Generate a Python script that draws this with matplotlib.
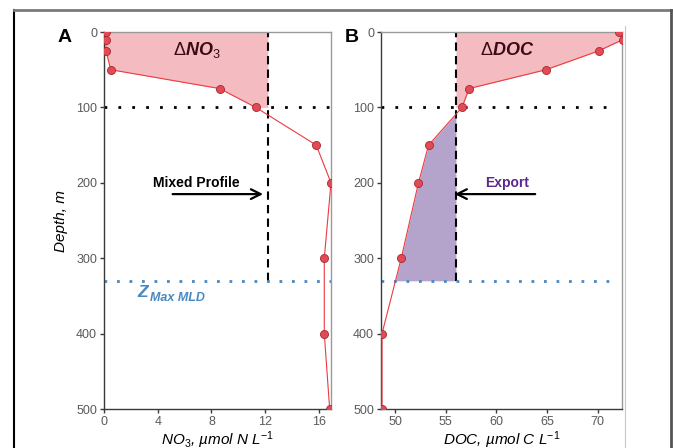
import numpy as np
import matplotlib
matplotlib.use("Agg")
import matplotlib.pyplot as plt
from matplotlib.lines import Line2D

plt.rcParams['font.family'] = ['Liberation Sans', 'DejaVu Sans']
plt.rcParams['mathtext.fontset'] = 'custom'
plt.rcParams['mathtext.rm'] = 'Liberation Sans'
plt.rcParams['mathtext.it'] = 'Liberation Sans:italic'
plt.rcParams['mathtext.bf'] = 'Liberation Sans:bold:italic'

# ---- data ----
depth = [0, 10, 25, 50, 75, 100, 150, 200, 300, 400, 500]
no3 = [0.15, 0.15, 0.15, 0.5, 8.6, 11.3, 15.8, 16.9, 16.4, 16.4, 16.8]
doc = [72.1, 72.5, 70.1, 64.9, 57.3, 56.6, 53.3, 52.3, 50.6, 48.7, 48.7]
no3_mixed = 12.2
doc_mixed = 56.0
euphotic_depth = 100
max_mld = 330
no3_ticks = [0, 4, 8, 12, 16]
doc_ticks = [50, 55, 60, 65, 70]
depth_ticks = [0, 100, 200, 300, 400, 500]

depth = np.array(depth, float)
no3 = np.array(no3, float)
doc = np.array(doc, float)

W, H = 673, 448
fig = plt.figure(figsize=(W / 100, H / 100), dpi=100)

axA = fig.add_axes([104 / W, 1 - 409 / H, (331 - 104) / W, (409 - 32) / H])
axB = fig.add_axes([381 / W, 1 - 409 / H, (622 - 381) / W, (409 - 32) / H])

pink = '#f4bcc1'
purple = '#b4a4cc'
line_red = '#ec3a40'
pt_face = '#e24b56'
pt_edge = '#a8262f'
dark_text = '#3a0b14'
blue = '#4a88c2'

def style(ax, xlim, xticks):
    ax.set_xlim(*xlim)
    ax.set_ylim(500, 0)
    ax.set_xticks(xticks)
    ax.set_yticks(depth_ticks)
    for s in ['left', 'bottom']:
        ax.spines[s].set_color('#3a3a3a')
        ax.spines[s].set_linewidth(1.0)
    for s in ['top', 'right']:
        ax.spines[s].set_color('#9a9a9a')
        ax.spines[s].set_linewidth(1.0)
    ax.tick_params(axis='both', length=3, width=1, color='#3a3a3a',
                   labelcolor='#5a5a5a', labelsize=9, pad=2)
    ax.tick_params(top=False, right=False)

style(axA, (0, 16.9), no3_ticks)
style(axB, (48.6, 72.4), doc_ticks)

# ---- Panel A ----
m = depth <= euphotic_depth
axA.fill_betweenx(depth[m], no3[m], no3_mixed, color=pink, lw=0, zorder=1)
axA.axvline(no3_mixed, ymin=1 - max_mld / 500, ymax=1, color='black',
            ls=(0, (4, 2.5)), lw=1.5, zorder=2)
axA.axhline(euphotic_depth, color='black', ls=(0, (1, 4)), lw=2, zorder=2)
axA.axhline(max_mld, color=blue, ls=(0, (1, 3.5)), lw=2, zorder=2)
axA.plot(no3, depth, color=line_red, lw=0.8, zorder=3)
axA.plot(no3, depth, ls='none', marker='o', ms=5.8, mfc=pt_face, mec=pt_edge,
         mew=0.6, zorder=4)

axA.text(6.9, 24, r'$\Delta\mathbf{NO}_3$', color=dark_text, fontsize=13,
         ha='center', va='center')
axA.text(6.9, 200, 'Mixed Profile', fontweight='bold', fontsize=10,
         ha='center', va='center', color='black')
axA.annotate('', xy=(12.05, 215), xytext=(4.9, 215),
             arrowprops=dict(arrowstyle='->,head_length=0.7,head_width=0.35',
                             lw=1.6, color='black'))
axA.text(2.45, 352, 'Z', color=blue, fontsize=12.5, fontweight='bold',
         fontstyle='italic', ha='left', va='baseline')
axA.text(3.4, 357, 'Max MLD', color=blue, fontsize=9, fontweight='bold',
         fontstyle='italic', ha='left', va='baseline')

axA.set_xlabel(r'NO$_3$, µmol N L$^{-1}$', fontstyle='italic', fontsize=11,
               labelpad=1)
axA.set_ylabel('Depth, m', fontstyle='italic', fontsize=11, labelpad=6)

# ---- Panel B ----
axB.fill_betweenx(depth[m], doc[m], doc_mixed, where=doc[m] >= doc_mixed,
                  interpolate=True, color=pink, lw=0, zorder=1)
yy = np.linspace(euphotic_depth, max_mld, 300)
xx = np.interp(yy, depth, doc)
axB.fill_betweenx(yy, xx, doc_mixed, where=xx <= doc_mixed, interpolate=True,
                  color=purple, lw=0, zorder=1)
axB.axvline(doc_mixed, ymin=1 - max_mld / 500, ymax=1, color='black',
            ls=(0, (4, 2.5)), lw=1.5, zorder=2)
axB.axhline(euphotic_depth, xmax=0.98, color='black', ls=(0, (1, 4)), lw=2, zorder=2)
axB.axhline(max_mld, xmax=0.98, color=blue, ls=(0, (1, 3.5)), lw=2, zorder=2)
axB.plot(doc, depth, color=line_red, lw=0.8, zorder=3)
axB.plot(doc, depth, ls='none', marker='o', ms=5.8, mfc=pt_face, mec=pt_edge,
         mew=0.6, zorder=4)

axB.text(61.05, 24, r'$\Delta\mathbf{DOC}$', color=dark_text, fontsize=13,
         ha='center', va='center')
axB.text(61.05, 200, 'Export', fontweight='bold', fontsize=10,
         ha='center', va='center', color='#5b2a8c')
axB.annotate('', xy=(55.6, 215), xytext=(64.1, 215),
             arrowprops=dict(arrowstyle='->,head_length=0.7,head_width=0.35',
                             lw=1.6, color='black'))
axB.set_xlabel(r'DOC, µmol C L$^{-1}$', fontstyle='italic', fontsize=11,
               labelpad=1)

# panel letters
fig.text(65 / W, 1 - 37 / H, 'A', fontsize=14, fontweight='bold',
         ha='center', va='center')
fig.text(352 / W, 1 - 37 / H, 'B', fontsize=14, fontweight='bold',
         ha='center', va='center')

# outer frame lines
fig.add_artist(Line2D([14 / W, 14 / W], [0, 1 - 10 / H], transform=fig.transFigure,
                      color='black', lw=1.5))
fig.add_artist(Line2D([14 / W, 671 / W], [1 - 10 / H, 1 - 10 / H],
                      transform=fig.transFigure, color='#7a7a7a', lw=2))
fig.add_artist(Line2D([671 / W, 671 / W], [0, 1 - 10 / H], transform=fig.transFigure,
                      color='#555555', lw=2))
fig.add_artist(Line2D([624.5 / W, 624.5 / W], [0, 1 - 26 / H], transform=fig.transFigure,
                      color='#c8c8c8', lw=0.8))

fig.savefig('out.png', dpi=100)
